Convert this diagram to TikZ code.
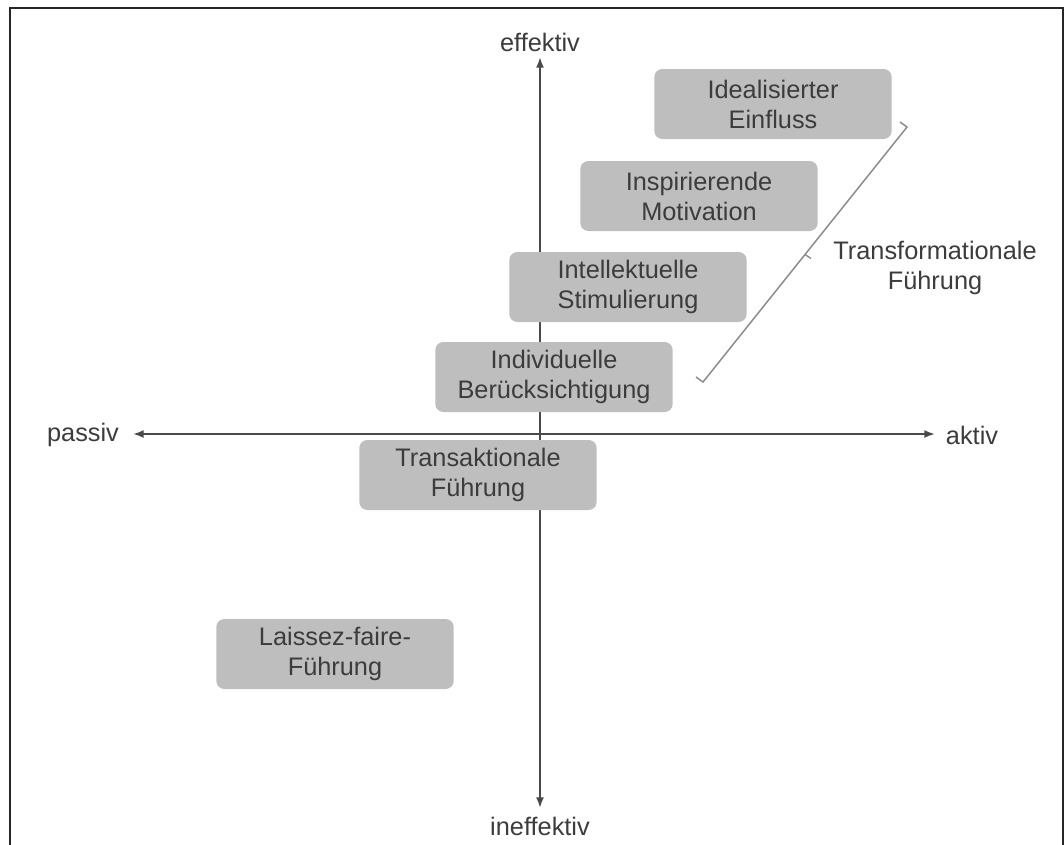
\documentclass[tikz,border=0pt]{standalone}
\usepackage{fontspec}
\setmainfont{Liberation Sans}
\usepackage{tikz}
\usetikzlibrary{arrows.meta}

\definecolor{kasten}{HTML}{BFBEBE}
\definecolor{schrift}{HTML}{3C3C3C}
\definecolor{achse}{HTML}{4A4A4A}

\begin{document}
\begin{tikzpicture}[x=0.75pt,y=-0.75pt]
        \tikzstyle{every node}=[text=schrift, font=\fontsize{19}{22.5}\selectfont];
        \tikzstyle{fstil}=[fill=kasten, rounded corners=6pt, minimum width=178pt,
            minimum height=52.5pt, align=center, inner sep=2pt];
        \tikzstyle{pfeil}=[draw=achse, line width=1.4pt, -{Latex[length=8pt,width=6pt]}];
        \useasboundingbox (0,0) rectangle (1064,844);
        \draw[line width=1.6pt, draw=black!85] (10,846) -- (10,8) -- (1063,8) -- (1063,846);
        % Achsen
        \coordinate (mitte) at (540,434);
        \node (eff) at (540,42) {effektiv};
        \node (ineff) at (540,826) {ineffektiv};
        \node (pas) at (83,435) {passiv};
        \node (akt) at (972,435) {aktiv};
        \coordinate (o) at (540,57);
        \coordinate (u) at (540,808);
        \coordinate (l) at (133,434);
        \coordinate (r) at (935,434);
        \draw[pfeil] (mitte) -- (o);
        \draw[pfeil] (mitte) -- (u);
        \draw[pfeil] (mitte) -- (l);
        \draw[pfeil] (mitte) -- (r);
        % Kaesten
        \node[fstil] (ideal) at (773,104) {Idealisierter\\Einfluss};
        \node[fstil] (insp) at (699,196) {Inspirierende\\Motivation};
        \node[fstil] (intel) at (628,287) {Intellektuelle\\Stimulierung};
        \node[fstil] (indiv) at (554,377) {Individuelle\\Berücksichtigung};
        \node[fstil] (trans) at (478,475) {Transaktionale\\Führung};
        \node[fstil] (laissez) at (335,654) {Laissez-faire-\\Führung};
        % Klammer
        \coordinate (ku) at (703,382);
        \coordinate (ko) at (907,127);
        \coordinate (km) at (805,254.5);
        \draw[draw=black!45, line width=1.1pt] (ku) ++(-7,-5) -- (ku) -- (ko) -- ++(-7,-5);
        \draw[draw=black!45, line width=1.1pt] (km) -- ++(6,4);
        \node[align=center] (tf) at (935,268) {Transformationale\\Führung};
\end{tikzpicture}
\end{document}
